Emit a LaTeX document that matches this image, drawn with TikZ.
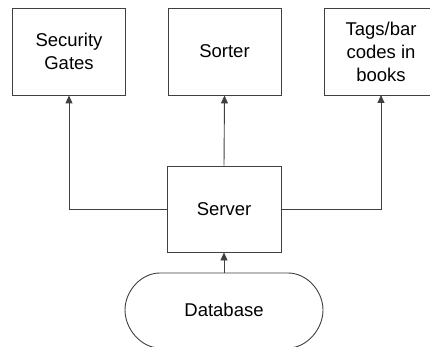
\documentclass[tikz,border=0pt]{standalone}
\usepackage{fontspec}
\setmainfont{Liberation Sans}
\usetikzlibrary{arrows.meta}
\definecolor{linecol}{HTML}{404040}
\begin{document}
\begin{tikzpicture}[x=1pt,y=-1pt,
  box/.style={draw=linecol,line width=0.9pt,minimum width=113pt,minimum height=87pt,inner sep=0pt,align=center,font=\fontsize{18.5}{23}\selectfont},
  conn/.style={draw=linecol,line width=0.9pt},
  arr/.style={conn,-{Triangle[length=8pt,width=7pt]}}]
\useasboundingbox (0,0) rectangle (430,347);
\node[box] (sg) at (69,51.5) {Security\\Gates};
\node[box] (so) at (224.5,51.5) {Sorter};
\node[box,minimum width=124pt] (tg) at (386,51.5) {};
\node[align=center,inner sep=0pt,font=\fontsize{18.5}{23}\selectfont] (tgt) at (381,51.5) {Tags/bar\\codes in\\books};
\coordinate (tgs) at (381,95);
\node[box,minimum width=114pt,minimum height=86pt] (sv) at (224,209) {Server};
\node[inner sep=0pt,font=\fontsize{18.5}{23}\selectfont] (db) at (224,310) {Database};
\coordinate (dbtop) at (224,273);
\draw[conn] (160,273) -- (288,273)
  .. controls (307,273) and (323,291) .. (323,310)
  .. controls (323,329) and (307,348) .. (288,348)
  -- (160,348)
  .. controls (141,348) and (125,329) .. (125,310)
  .. controls (125,291) and (141,273) .. (160,273) -- cycle;
\draw[arr] (sv.west) -| (sg.south);
\draw[arr] (sv.north) -- (so.south);
\draw[arr] (sv.east) -| (tgs);
\draw[arr] (dbtop) -- (sv.south);
\end{tikzpicture}
\end{document}
